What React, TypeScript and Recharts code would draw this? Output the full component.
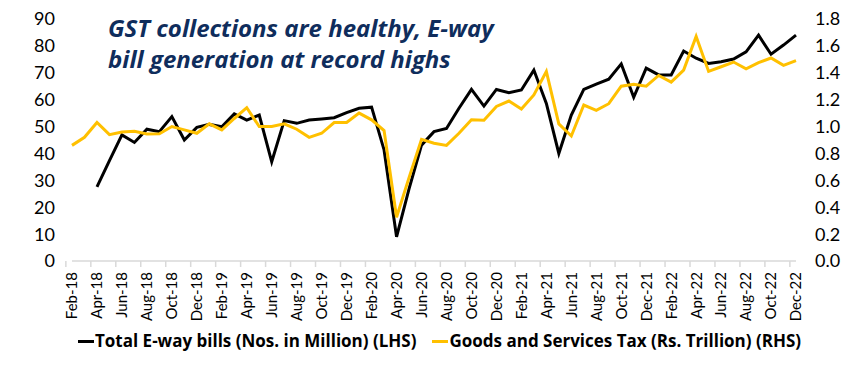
import React from "react";
import { LineChart, Line, XAxis, YAxis } from "recharts";

const months = [
  "Feb-18","Mar-18","Apr-18","May-18","Jun-18","Jul-18","Aug-18","Sep-18","Oct-18","Nov-18","Dec-18",
  "Jan-19","Feb-19","Mar-19","Apr-19","May-19","Jun-19","Jul-19","Aug-19","Sep-19","Oct-19","Nov-19","Dec-19",
  "Jan-20","Feb-20","Mar-20","Apr-20","May-20","Jun-20","Jul-20","Aug-20","Sep-20","Oct-20","Nov-20","Dec-20",
  "Jan-21","Feb-21","Mar-21","Apr-21","May-21","Jun-21","Jul-21","Aug-21","Sep-21","Oct-21","Nov-21","Dec-21",
  "Jan-22","Feb-22","Mar-22","Apr-22","May-22","Jun-22","Jul-22","Aug-22","Sep-22","Oct-22","Nov-22","Dec-22",
];

const ewayBills: (number | null)[] = [
  null, null, 27.6, 37.3, 46.9, 44.1, 49.0, 48.1, 53.7, 45.0, 49.7,
  50.8, 49.9, 54.7, 52.4, 54.3, 36.9, 52.2, 51.2, 52.4, 52.8, 53.3, 55.2,
  56.8, 57.2, 41.3, 9.0, 26.8, 43.1, 48.1, 49.3, 56.8, 63.8, 57.6, 63.8,
  62.6, 63.6, 71.0, 58.6, 40.0, 54.3, 63.8, 65.8, 67.6, 73.3, 60.9, 71.7,
  69.2, 69.2, 78.1, 75.4, 73.5, 74.1, 75.1, 77.8, 84.0, 76.9, 80.3, 84.0,
];

const gst: number[] = [
  0.86, 0.92, 1.03, 0.94, 0.96, 0.965, 0.945, 0.947, 1.0, 0.975, 0.95,
  1.02, 0.975, 1.06, 1.14, 1.0, 1.0, 1.02, 0.98, 0.92, 0.95, 1.03, 1.03,
  1.1, 1.05, 0.97, 0.325, 0.62, 0.905, 0.876, 0.86, 0.95, 1.05, 1.047, 1.15,
  1.19, 1.13, 1.235, 1.41, 1.02, 0.93, 1.16, 1.12, 1.17, 1.3, 1.315, 1.3,
  1.38, 1.33, 1.42, 1.67, 1.41, 1.445, 1.48, 1.43, 1.475, 1.51, 1.455, 1.49,
];

const leftTicks = [0, 10, 20, 30, 40, 50, 60, 70, 80, 90];
const rightTicks = [0, 0.2, 0.4, 0.6, 0.8, 1.0, 1.2, 1.4, 1.6, 1.8];

const seriesNames = [
  "Total E-way bills (Nos. in Million) (LHS)",
  "Goods and Services Tax (Rs. Trillion) (RHS)",
];
const seriesColors = ["#000000", "#FFC000"];
const titleLines = ["GST collections are healthy, E-way", "bill generation at record highs"];

const data = months.map((m, i) => ({ month: m, eway: ewayBills[i], gst: gst[i] }));

const W = 850;
const H = 369;
const LEFT_W = 72;
const RIGHT_W = 54;
const BAND = (W - LEFT_W - RIGHT_W) / months.length;
const FONT = "Lato, 'Open Sans', sans-serif";
const FONT2 = "'Open Sans', Lato, sans-serif";

const XTick = (props: any) => {
  const { x, y, payload } = props;
  const bx = x - BAND / 2;
  return (
    <g>
      <line x1={bx} y1={y} x2={bx} y2={y + 6} stroke="#d9d9d9" strokeWidth={1.5} />
      <text
        x={x}
        y={y + 11}
        dy="0.36em"
        transform={`rotate(-90, ${x}, ${y + 11})`}
        textAnchor="end"
        fontSize={15}
        fontFamily={FONT}
        fill="#000"
      >
        {payload.value}
      </text>
    </g>
  );
};

export default function App() {
  return (
    <div style={{ position: "absolute", left: 0, top: 0, width: W, height: H, background: "#fff", fontFamily: FONT }}>
      <LineChart width={W} height={H} data={data} margin={{ top: 19, right: 0, bottom: 0, left: 0 }}>
        <XAxis
          dataKey="month"
          interval={1}
          tickLine={false}
          tickSize={0}
          tickMargin={0}
          height={108}
          axisLine={{ stroke: "#d9d9d9", strokeWidth: 1.5 }}
          tick={<XTick />}
        />
        <YAxis
          yAxisId="left"
          domain={[0, 90]}
          ticks={leftTicks}
          interval={0}
          width={LEFT_W}
          axisLine={false}
          tickLine={false}
          tickSize={0}
          tickMargin={17}
          tick={{ fontSize: 18, fill: "#000", fontFamily: FONT }}
        />
        <YAxis
          yAxisId="right"
          orientation="right"
          domain={[0, 1.8]}
          ticks={rightTicks}
          interval={0}
          width={RIGHT_W}
          axisLine={false}
          tickLine={false}
          tickSize={0}
          tickMargin={19}
          tickFormatter={(v: number) => v.toFixed(1)}
          tick={{ fontSize: 18, fill: "#000", fontFamily: FONT }}
        />
        <Line
          yAxisId="left"
          dataKey="eway"
          name={seriesNames[0]}
          stroke={seriesColors[0]}
          strokeWidth={3}
          dot={false}
          activeDot={false}
          isAnimationActive={false}
          strokeLinejoin="miter"
        />
        <Line
          yAxisId="right"
          dataKey="gst"
          name={seriesNames[1]}
          stroke={seriesColors[1]}
          strokeWidth={3}
          dot={false}
          activeDot={false}
          isAnimationActive={false}
          strokeLinejoin="miter"
        />
      </LineChart>
      <div
        style={{
          position: "absolute",
          left: 108,
          top: 12,
          color: "#0f2d5c",
          fontFamily: FONT2,
          fontWeight: 700,
          fontStyle: "italic",
          fontSize: 24,
          lineHeight: "31px",
          whiteSpace: "nowrap",
        }}
      >
        {titleLines.map((t) => (
          <div key={t}>{t}</div>
        ))}
      </div>
      <div
        style={{
          position: "absolute",
          left: 78,
          top: 330,
          display: "flex",
          alignItems: "center",
          fontFamily: FONT2,
          fontSize: 17,
          fontWeight: 700,
          color: "#000",
          whiteSpace: "nowrap",
          lineHeight: "22px",
        }}
      >
        {seriesNames.map((n, i) => (
          <div key={n} style={{ display: "flex", alignItems: "center", marginRight: i === 0 ? 16 : 0 }}>
            <span style={{ display: "inline-block", width: 16, height: 3, background: seriesColors[i], marginRight: 1 }} />
            <span>{n}</span>
          </div>
        ))}
      </div>
    </div>
  );
}
